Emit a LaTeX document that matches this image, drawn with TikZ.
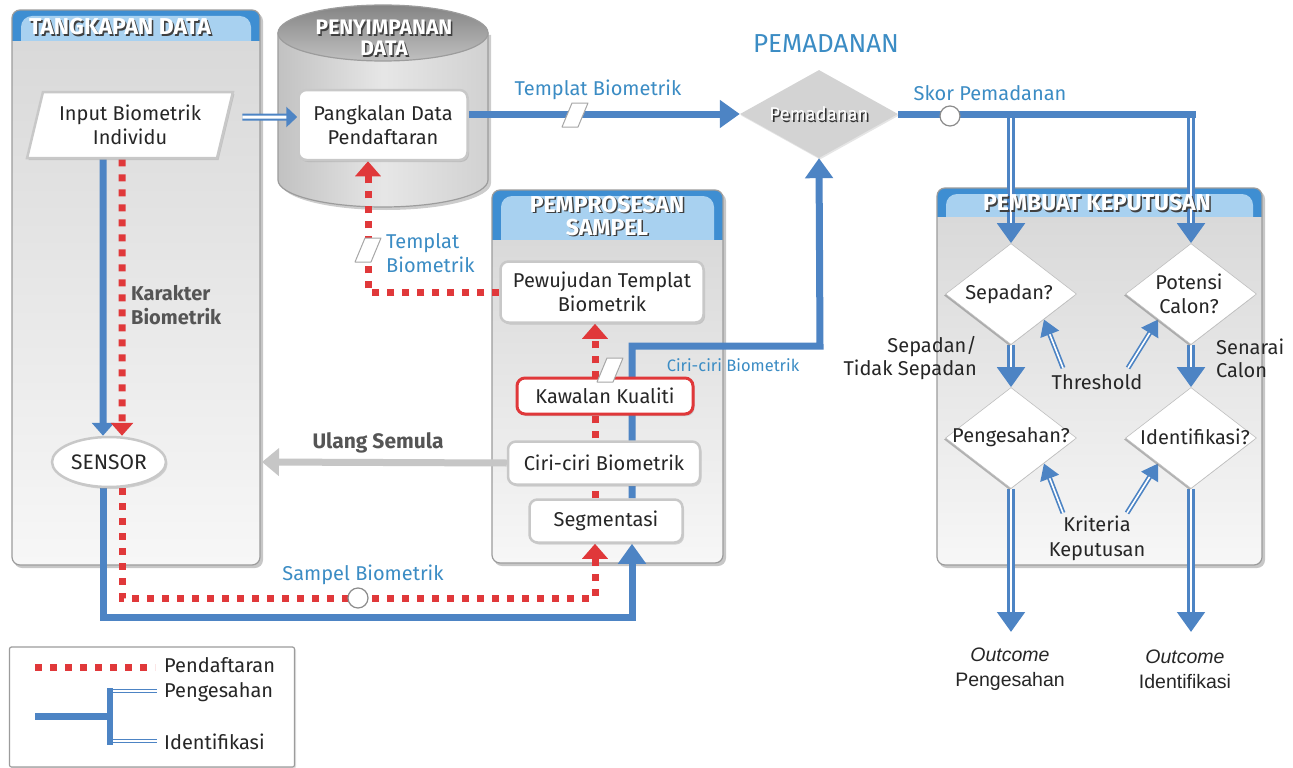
\documentclass[tikz,border=0pt]{standalone}
\usepackage{fontspec}
\setmainfont{Fira Sans}
\newfontfamily\arialf{Liberation Sans}
\usetikzlibrary{arrows.meta,shapes.geometric,shadows,calc}
\definecolor{bl}{HTML}{4D84C4}
\definecolor{lbl}{HTML}{3B8CC4}
\definecolor{rd}{HTML}{E0383A}
\definecolor{hdr}{HTML}{3E8ED2}
\definecolor{hdrl}{HTML}{A8D1F0}
\definecolor{txt}{HTML}{262626}
\definecolor{gtx}{HTML}{555555}
\definecolor{brd}{HTML}{9C9C9C}
\definecolor{bxb}{HTML}{C8C8C8}
\definecolor{ulg}{HTML}{C6C6C6}
\definecolor{pantop}{HTML}{D9D9D9}
\definecolor{panbot}{HTML}{F7F7F7}
\definecolor{cyl}{HTML}{DCDCDC}
\definecolor{cyltop}{HTML}{A5A5A5}
\definecolor{pemd}{HTML}{D3D3D3}
\pgfdeclarelayer{bg}
\pgfdeclarelayer{ln}
\pgfsetlayers{bg,ln,main}
\newcommand\mkpanel[5]{%
  \fill[black,opacity=0.22,rounded corners=8pt] (#1+2,#2+3) rectangle (#3+3,#4+3);
  \begin{scope}
    \clip[rounded corners=8pt] (#1,#2) rectangle (#3,#4);
    \fill[hdr] (#1,#2) rectangle (#3,#5);
    \fill[hdrl,rounded corners=11pt] (#1+9,#2+6) rectangle (#3-9,#5+14);
    \shade[top color=pantop,bottom color=panbot] (#1,#5) rectangle (#3,#4);
  \end{scope}
  \draw[brd,line width=1.2pt,rounded corners=8pt] (#1,#2) rectangle (#3,#4);
}
\newcommand\ttl[4][]{%
  \node[ttlfont,#1,text=black!75] (#2s) at ($#3+(1.5,1.5)$) {#4};
  \node[ttlfont,#1,text=white] (#2) at #3 {#4};
}
\newcommand\dblar[3]{%
  \draw[#1] #2 -- #3;
  \draw[#1 in] #2 -- #3;
}
\newcommand\pgm[2]{%
  \coordinate (#1) at #2;
  \draw[pgram] ($(#1)+(-13,12)$) -- ($(#1)+(-3,-12)$) -- ($(#1)+(13,-12)$) -- ($(#1)+(3,12)$) -- cycle;
}
\begin{document}
\begin{tikzpicture}[x=1pt,y=-1pt,
  every node/.style={text=txt},
  ttlfont/.style={font=\bfseries\fontsize{23}{23}\selectfont,align=center,inner sep=0pt},
  bx/.style={rounded corners=8pt,draw=bxb,line width=2.5pt,fill=white,align=center,
    font=\fontsize{20}{24}\selectfont,inner sep=2pt,
    drop shadow={opacity=0.3,shadow xshift=1.5pt,shadow yshift=-2pt}},
  lab/.style={font=\fontsize{20}{24}\selectfont,align=center,inner sep=1pt},
  blab/.style={lab,text=lbl},
  dmd/.style={diamond,fill=white,draw=black!25,line width=0.6pt,inner sep=0pt,
    minimum width=131pt,minimum height=101pt,
    drop shadow={opacity=0.55,shadow xshift=-1.5pt,shadow yshift=-1.5pt}},
  pgram/.style={fill=white,draw=black!35,line width=1pt,line join=round},
  jc/.style={circle,fill=white,draw=black!45,line width=1.2pt,minimum size=20pt,inner sep=0pt},
  thb/.style={draw=bl,line width=7pt},
  rdot/.style={draw=rd,line width=7pt,dash pattern=on 7pt off 8pt},
  bigtip/.style={-{Triangle[width=27pt,length=20pt]}},
  smtip/.style={-{Triangle[width=22pt,length=13pt]}},
  redtip/.style={-{Triangle[width=25pt,length=15pt]}},
  dbl big/.style={draw=bl,line width=8pt,-{Triangle[width=27pt,length=20pt]}},
  dbl big in/.style={draw=white,line width=2pt,shorten >=20pt},
  dbl thin/.style={draw=bl,line width=5pt,-{Triangle[width=19pt,length=16pt]}},
  dbl thin in/.style={draw=white,line width=1.6pt,shorten >=16pt},
  dbl inp/.style={draw=bl,line width=7pt,-{Triangle[width=20pt,length=11pt]}},
  dbl inp in/.style={draw=white,line width=3pt,shorten >=11pt},
  dbl leg/.style={draw=bl,line width=4pt},
  dbl leg in/.style={draw=white,line width=1.4pt},
]
\useasboundingbox (0,0) rectangle (1293,768);

% ---------- background: panels and cylinder
\begin{pgfonlayer}{bg}
\fill[white] (0,0) rectangle (1293,768);
\mkpanel{12}{10}{260}{565}{42}
\mkpanel{492}{190}{723}{563}{240}
\mkpanel{937}{188}{1262}{565}{217}
% cylinder
\fill[black,opacity=0.2] (281,35) -- (281,183) arc[start angle=180,end angle=0,x radius=105,y radius=27] -- (491,35) -- cycle;
\shade[left color=cyl!88!black,right color=cyl!95!black,middle color=cyl!70!white,draw=brd,line width=1.2pt]
  (278,33) -- (278,180) arc[start angle=180,end angle=0,x radius=105,y radius=27] -- (488,33) -- cycle;
\shade[top color=cyltop!80!black,bottom color=cyltop!70!white,draw=brd,line width=1.2pt] (383,33) ellipse[x radius=105,y radius=28];
\end{pgfonlayer}

% ---------- titles
\ttl{tA}{(120,27)}{TANGKAPAN DATA}
\ttl[font=\bfseries\fontsize{21}{21}\selectfont]{tB}{(384,38)}{PENYIMPANAN\\DATA}
\ttl{tC}{(607,216)}{PEMPROSESAN\\SAMPEL}
\ttl{tD}{(1097,203)}{PEMBUAT KEPUTUSAN}
\node[font=\fontsize{26}{28}\selectfont,text=lbl] (tE) at (826,44) {PEMADANAN};

% ---------- nodes
\node[trapezium,trapezium left angle=72,trapezium right angle=108,trapezium stretches=true,
  minimum width=206pt,minimum height=66pt,inner sep=0pt,fill=white,draw=bxb,line width=2.5pt,
  align=center,font=\fontsize{20}{24}\selectfont,
  drop shadow={opacity=0.3,shadow xshift=1.5pt,shadow yshift=-2pt}] (inp) at (130,125)
  {Input Biometrik\\Individu};
\node[bx,minimum width=169pt,minimum height=70pt] (pdb) at (383,125) {Pangkalan Data\\Pendaftaran};
\node[diamond,fill=pemd,inner sep=0pt,minimum width=158pt,minimum height=88pt,
  drop shadow={opacity=0.2,shadow xshift=1pt,shadow yshift=-1.5pt}] (pem) at (819,114) {};
\node[font=\fontsize{18.5}{20}\selectfont,text=black!80] (pemts) at (820.6,115.6) {Pemadanan};
\node[font=\fontsize{18.5}{20}\selectfont,text=white] (pemt) at (819,114) {Pemadanan};
\node[bx,minimum width=203pt,minimum height=61pt] (pew) at (602,292) {Pewujudan Templat\\Biometrik};
\node[bx,draw=rd,line width=3pt,minimum width=176pt,minimum height=36pt] (kaw) at (605,396) {Kawalan Kualiti};
\node[bx,minimum width=192pt,minimum height=43pt] (cir) at (604,463) {Ciri-ciri Biometrik};
\node[bx,minimum width=153pt,minimum height=43pt] (seg) at (606,521) {Segmentasi};
\node[ellipse,fill=white,draw=bxb,line width=2.5pt,minimum width=114pt,minimum height=50pt,inner sep=1pt,
  font=\fontsize{21}{23}\selectfont,
  drop shadow={opacity=0.3,shadow xshift=1.5pt,shadow yshift=-2pt}] (sen) at (109,462) {SENSOR};

\node[dmd] (sep) at (1011,294) {};
\node[dmd] (pot) at (1191,294) {};
\node[dmd] (peng) at (1011,438) {};
\node[dmd] (idf) at (1191,438) {};
\node[lab] (sept) at (1009,294) {Sepadan?};
\node[lab] (pott) at (1189,294) {Potensi\\Calon?};
\node[lab] (pengt) at (1011,437) {Pengesahan?};
\node[lab] (idft) at (1195,437) {Identifikasi?};

% coordinates
\coordinate (bb) at (632,617);
\coordinate (rb) at (595,598);
\coordinate (cb) at (820,346);
\coordinate (rx2) at (368,0);
\coordinate (ulE) at (262,462);
\coordinate (skE) at ($(pot.north)+(5,0)$);
\coordinate (outP) at (1011,632);
\coordinate (outI) at (1191,632);
\coordinate (thA) at (1063,368);
\coordinate (thB) at (1128,368);
\coordinate (krA) at (1063,513);
\coordinate (krB) at (1127,513);

% ---------- connectors
\begin{pgfonlayer}{ln}
\dblar{dbl inp}{($(inp.east)+(16,-8)$)}{($(pdb.west)+(0,-8)$)}
\draw[thb,bigtip] (pdb.east |- pem.west) -- (pem.west);
\dblar{dbl big}{(sep.north |- pem.east)}{(sep.north)}
\dblar{dbl big}{(pot.north |- pem.east)}{(pot.north)}
\draw[thb] (pem.east) -- (skE |- pem.east);
\dblar{dbl big}{(sep.south)}{(peng.north)}
\dblar{dbl big}{(pot.south)}{(idf.north)}
\dblar{dbl big}{(peng.south)}{(outP)}
\dblar{dbl big}{(idf.south)}{(outI)}
\dblar{dbl thin}{(thA)}{($(sep.east)!0.5!(sep.south)$)}
\dblar{dbl thin}{(thB)}{($(pot.west)!0.5!(pot.south)$)}
\dblar{dbl thin}{(krA)}{($(peng.east)!0.5!(peng.south)$)}
\dblar{dbl thin}{(krB)}{($(idf.west)!0.5!(idf.south)$)}
% capture
\draw[thb,smtip] ($(inp.south)+(-27,0)$) -- ($(sen.north)+(-6,0)$);
\draw[rdot,smtip] ($(inp.south)+(-8,0)$) -- ($(sen.north)+(13,0)$);
\draw[thb,bigtip] ($(sen.south)+(-6,0)$) |- (bb) -- (bb |- seg.south);
\draw[rdot,redtip] ($(sen.south)+(13,0)$) |- (rb) -- (rb |- seg.south);
\draw[thb,bigtip] (bb |- seg.north) |- (cb) -- (pem.south);
\draw[rdot,redtip] (rb |- seg.north) -- (rb |- pew.south);
\draw[rdot,redtip] (pew.west) -| (rx2 |- pdb.south);
\draw[draw=ulg,line width=7pt,-{Triangle[width=27pt,length=17pt]}] (cir.west) -- (ulE);
\end{pgfonlayer}

% ---------- small markers on lines
\pgm{pgA}{(575,115)}
\pgm{pgB}{(368,250)}
\pgm{pgC}{(610,370)}
\node[jc] (skc) at (950,116) {};
\node[jc] (spc) at (358,598) {};

% ---------- labels
\node[blab] (lTB) at (598,90) {Templat Biometrik};
\node[blab] (lSP) at (990,93) {Skor Pemadanan};
\node[blab,align=left,anchor=west] (lTB2) at (385,253) {Templat\\Biometrik};
\node[blab,font=\fontsize{16.5}{19}\selectfont] (lCB) at (733,365) {Ciri-ciri Biometrik};
\node[blab] (lSB) at (363,575) {Sampel Biometrik};
\node[lab,font=\bfseries\fontsize{20}{24}\selectfont,text=gtx,align=left,anchor=west] (lKB) at (130,305) {Karakter\\Biometrik};
\node[lab,font=\bfseries\fontsize{21}{24}\selectfont,text=gtx] (lUS) at (378,443) {Ulang Semula};
\node[lab,align=right,anchor=east,font=\fontsize{20}{23}\selectfont] (lSTS) at (978,358) {Sepadan/\\Tidak Sepadan};
\node[lab,align=left,anchor=west,font=\fontsize{20}{23}\selectfont] (lSC) at (1215,358) {Senarai\\Calon};
\node[lab] (lTh) at (1097,382) {Threshold};
\node[lab,font=\fontsize{20}{25}\selectfont] (lKK) at (1097,538) {Kriteria\\Keputusan};
\node[lab,font=\arialf\fontsize{19.5}{25}\selectfont] (lOP) at (1010,669) {\itshape Outcome\\Pengesahan};
\node[lab,font=\arialf\fontsize{19.5}{25}\selectfont] (lOI) at (1185,669) {\itshape Outcome\\Identifikasi};

% ---------- legend
\node[draw=brd,line width=1.2pt,fill=white,rounded corners=2pt,minimum width=285pt,minimum height=120pt,
  drop shadow={opacity=0.25,shadow xshift=1.5pt,shadow yshift=-1.5pt}] (leg) at (152,707) {};
\coordinate (lg1) at (35,667);
\coordinate (lg2) at (155,667);
\coordinate (lg3) at (35,716);
\coordinate (lg4) at (110,716);
\coordinate (lg5) at (110,688);
\coordinate (lg6) at (110,745);
\coordinate (lg7) at (157,691);
\coordinate (lg8) at (157,741);
\draw[rdot] (lg1) -- (lg2);
\dblar{dbl leg}{(lg5 |- lg7)}{(lg7)}
\dblar{dbl leg}{(lg5 |- lg8)}{(lg8)}
\draw[thb] (lg3) -- (lg4);
\draw[bl,line width=6pt] (lg5) -- (lg6);
\node[lab,anchor=west] (lgP) at (163,665) {Pendaftaran};
\node[lab,anchor=west] (lgQ) at (163,692) {Pengesahan};
\node[lab,anchor=west] (lgR) at (163,742) {Identifikasi};
\end{tikzpicture}
\end{document}
